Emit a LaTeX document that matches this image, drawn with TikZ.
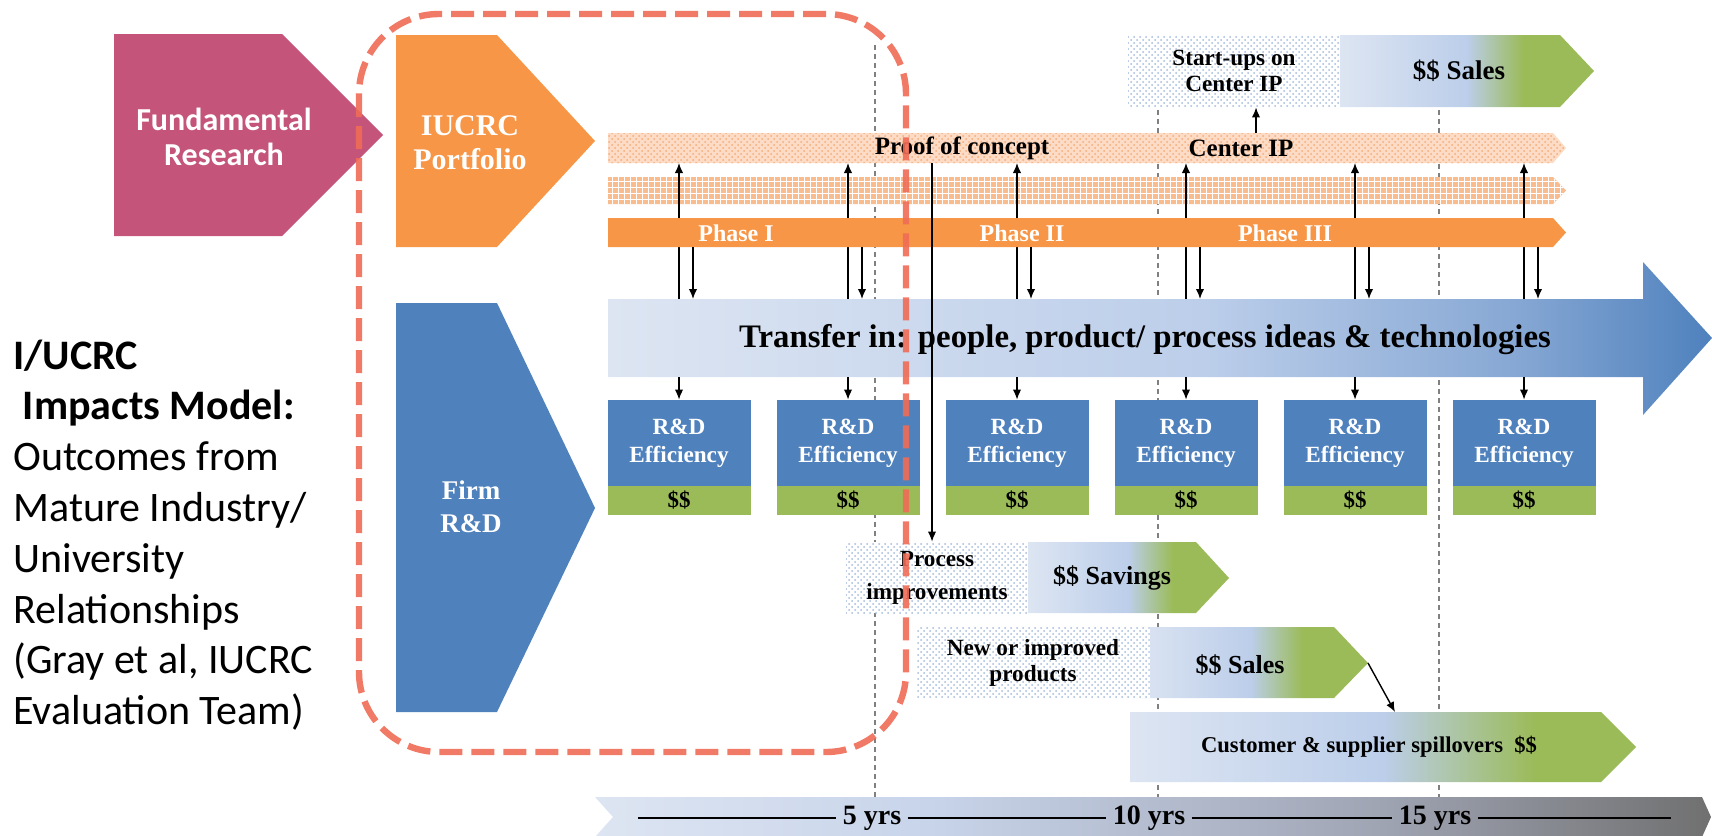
\documentclass[tikz,border=0pt]{standalone}
\usepackage{fontspec}
\setmainfont{Liberation Serif}
\newfontfamily\calibri{Carlito}
\usetikzlibrary{shapes,arrows.meta,patterns,positioning}

\definecolor{frpink}{RGB}{196,84,122}
\definecolor{iuorange}{RGB}{247,150,70}
\definecolor{rdblue}{RGB}{79,129,189}
\definecolor{rdgreen}{RGB}{155,187,89}
\definecolor{boxred}{RGB}{240,108,86}
\definecolor{gradlight}{RGB}{221,229,242}
\definecolor{gradmid}{RGB}{188,206,234}
\definecolor{xferdeep}{RGB}{135,168,212}
\definecolor{tlmid}{RGB}{200,212,234}
\definecolor{tlslate}{RGB}{160,165,180}
\definecolor{tldark}{RGB}{112,112,112}
\definecolor{peachlight}{RGB}{252,220,198}
\definecolor{peachdot}{RGB}{246,172,120}
\definecolor{peachmid}{RGB}{249,188,142}
\definecolor{dotblue}{RGB}{165,188,222}

\pgfdeclarehorizontalshading{salesgrad}{100bp}{color(0bp)=(gradlight); color(25bp)=(gradlight); color(50bp)=(gradmid); color(61bp)=(rdgreen); color(100bp)=(rdgreen)}
\pgfdeclarehorizontalshading{spillgrad}{100bp}{color(0bp)=(gradlight); color(25bp)=(gradlight); color(50bp)=(gradmid); color(65bp)=(rdgreen); color(100bp)=(rdgreen)}
\pgfdeclarehorizontalshading{xfergrad}{100bp}{color(0bp)=(gradlight); color(25bp)=(gradlight); color(52bp)=(gradmid); color(66bp)=(xferdeep); color(75bp)=(rdblue); color(100bp)=(rdblue)}
\pgfdeclarehorizontalshading{tlgrad}{100bp}{color(0bp)=(gradlight); color(25bp)=(gradlight); color(40bp)=(tlmid); color(60bp)=(tlslate); color(75bp)=(tldark); color(100bp)=(tldark)}

\newcommand{\tnr}[2]{\bfseries\fontsize{#1}{#2}\selectfont}

\begin{document}
\begin{tikzpicture}[x=0.5pt, y=-0.5pt, >={Latex[length=5pt,width=4.2pt]}, node distance=84.5pt,
    rdbox/.style={rectangle, fill=rdblue, minimum width=71.5pt, minimum height=43pt, inner sep=0pt, align=center, text=white, font=\tnr{11.6}{14}},
    cashbox/.style={rectangle, fill=rdgreen, minimum width=71.5pt, minimum height=14.5pt, inner sep=0pt, font=\tnr{11.5}{12}},
    dotbox/.style={rectangle, inner sep=0pt, preaction={fill=white}, pattern=crosshatch dots, pattern color=dotblue, align=center, font=\tnr{11.6}{13}},
    yrlbl/.style={inner sep=3pt, font=\tnr{14}{14}},
    yrline/.style={line width=1.1pt},
    link/.style={->, line width=0.7pt},
    timemark/.style={gray, line width=0.8pt, dash pattern=on 2.5pt off 2pt}]
    \useasboundingbox (0,0) rectangle (1712,835);

    % year marks
    \draw[timemark] (875,45) -- (875,797);
    \draw[timemark] (1158,110) -- (1158,797);
    \draw[timemark] (1439,110) -- (1439,797);

    % left chevrons
    \fill[frpink] (114,34) -- (282,34) -- (383,135) -- (282,236) -- (114,236) -- cycle;
    \node[font=\calibri\bfseries\fontsize{16}{17.5}\selectfont, text=white, align=center] (fundres) at (224,137) {Fundamental\\Research};
    \fill[iuorange] (396,35) -- (497,35) -- (595,141) -- (497,247) -- (396,247) -- cycle;
    \node[font=\tnr{15}{17}, text=white, align=center] (portfolio) at (470,143) {IUCRC\\Portfolio};
    \fill[rdblue] (396,303) -- (497,303) -- (595,508) -- (497,712) -- (396,712) -- cycle;
    \node[font=\tnr{13.5}{16.5}, text=white, align=center] (firmrd) at (471,507) {Firm\\R\&D};

    % center bars
    \coordinate (iptop) at (0,133);
    \coordinate (ipbot) at (0,163);
    \coordinate (phbot) at (0,247);
    \coordinate (xfertop) at (0,299);
    \coordinate (xferbot) at (0,377);
    \path[preaction={fill=peachlight}, pattern=crosshatch dots, pattern color=peachdot] (608,133) -- (1553,133) -- (1566,148) -- (1553,163) -- (608,163) -- cycle;
    \path[preaction={fill=peachmid}, pattern=grid, pattern color=white] (608,177) -- (1553,177) -- (1566,190.5) -- (1553,204) -- (608,204) -- cycle;

    % R&D boxes
    \node[rdbox] (rd1) at (679,443) {R\&D\\Efficiency};
    \node[rdbox, right of=rd1] (rd2) {R\&D\\Efficiency};
    \node[rdbox, right of=rd2] (rd3) {R\&D\\Efficiency};
    \node[rdbox, right of=rd3] (rd4) {R\&D\\Efficiency};
    \node[rdbox, right of=rd4] (rd5) {R\&D\\Efficiency};
    \node[rdbox, right of=rd5] (rd6) {R\&D\\Efficiency};
    \node[cashbox, below of=rd1, node distance=28.75pt] (cash1) {\$\$};
    \node[cashbox, below of=rd2, node distance=28.75pt] (cash2) {\$\$};
    \node[cashbox, below of=rd3, node distance=28.75pt] (cash3) {\$\$};
    \node[cashbox, below of=rd4, node distance=28.75pt] (cash4) {\$\$};
    \node[cashbox, below of=rd5, node distance=28.75pt] (cash5) {\$\$};
    \node[cashbox, below of=rd6, node distance=28.75pt] (cash6) {\$\$};

    % start-ups
    \node[dotbox, minimum width=106pt, minimum height=36pt] (startups) at (1234,71) {Start-ups on\\Center IP};
    \shade[shading=salesgrad] (1340,35) -- (1560,35) -- (1594,71) -- (1560,107) -- (1340,107) -- cycle;
    \node[font=\tnr{13.5}{14}] (sales1) at (1459,71) {\$\$ Sales};

    % up arrows
    \draw[link] (rd1.north |- xfertop) -- (rd1.north |- ipbot);
    \draw[link] (rd2.north |- xfertop) -- (rd2.north |- ipbot);
    \draw[link] (rd3.north |- xfertop) -- (rd3.north |- ipbot);
    \draw[link] (rd4.north |- xfertop) -- (rd4.north |- ipbot);
    \draw[link] (rd5.north |- xfertop) -- (rd5.north |- ipbot);
    \draw[link] (rd6.north |- xfertop) -- (rd6.north |- ipbot);
    \draw[link] ([xshift=11pt]startups.south |- iptop) -- ([xshift=11pt]startups.south);

    % phases
    \fill[iuorange] (608,218) -- (1553,218) -- (1566,232.5) -- (1553,247) -- (608,247) -- cycle;
    \node[font=\tnr{12}{12}, text=white] (phase1) at (736,233) {Phase I};
    \node[font=\tnr{12}{12}, text=white] (phase2) at (1022,233) {Phase II};
    \node[font=\tnr{12}{12}, text=white] (phase3) at (1285,233) {Phase III};
    \node[font=\tnr{12.5}{13}] (proof) at (962,148) {Proof of concept};
    \node[font=\tnr{12.5}{13}] (centerip) at (1241,148) {Center IP};

    % transfer
    \shade[shading=xfergrad] (608,299) -- (1643,299) -- (1643,262) -- (1712,338) -- (1643,415) -- (1643,377) -- (608,377) -- cycle;
    \node[font=\tnr{16.4}{17}] (transfer) at (1145,340) {Transfer in: people, product/ process ideas \& technologies};

    % down arrows
    \draw[link] ([xshift=7pt]rd1.north |- phbot) -- ([xshift=7pt]rd1.north |- xfertop);
    \draw[link] ([xshift=7pt]rd2.north |- phbot) -- ([xshift=7pt]rd2.north |- xfertop);
    \draw[link] ([xshift=7pt]rd3.north |- phbot) -- ([xshift=7pt]rd3.north |- xfertop);
    \draw[link] ([xshift=7pt]rd4.north |- phbot) -- ([xshift=7pt]rd4.north |- xfertop);
    \draw[link] ([xshift=7pt]rd5.north |- phbot) -- ([xshift=7pt]rd5.north |- xfertop);
    \draw[link] ([xshift=7pt]rd6.north |- phbot) -- ([xshift=7pt]rd6.north |- xfertop);
    \draw[link] (rd1.north |- xferbot) -- (rd1.north);
    \draw[link] (rd2.north |- xferbot) -- (rd2.north);
    \draw[link] (rd3.north |- xferbot) -- (rd3.north);
    \draw[link] (rd4.north |- xferbot) -- (rd4.north);
    \draw[link] (rd5.north |- xferbot) -- (rd5.north);
    \draw[link] (rd6.north |- xferbot) -- (rd6.north);

    % savings and sales
    \node[dotbox, minimum width=91pt, minimum height=35.5pt, font=\tnr{11.6}{16.5}] (procimp) at (937,577.5) {Process\\improvements};
    \shade[shading=salesgrad] (1028,542) -- (1196,542) -- (1229,578) -- (1196,613) -- (1028,613) -- cycle;
    \node[font=\tnr{13}{14}] (savings) at (1112,578) {\$\$ Savings};
    \draw[link] ([xshift=-2.5pt]procimp.north |- ipbot) -- ([xshift=-2.5pt]procimp.north);

    \shade[shading=salesgrad] (1133,627) -- (1334,627) -- (1368,663) -- (1334,698) -- (1133,698) -- cycle;
    \node[dotbox, minimum width=116.5pt, minimum height=35.5pt] (newprod) at (1033,662.5) {New or improved\\products};
    \node[font=\tnr{13}{14}] (sales2) at (1240,665) {\$\$ Sales};

    \shade[shading=spillgrad] (1130,712) -- (1601,712) -- (1636,747) -- (1601,782) -- (1130,782) -- cycle;
    \node[font=\tnr{11.3}{12}] (spill) at (1369,747) {Customer \& supplier spillovers \ \$\$};
    \coordinate (newtip) at (1368,663);
    \coordinate (spillin) at (1395,712);
    \draw[link] (newtip) -- (spillin);

    % timeline
    \shade[shading=tlgrad] (595,797) -- (1702,797) -- (1711,817) -- (1702,837) -- (595,837) -- (613,817) -- cycle;
    \node[yrlbl] (yr5) at (872,818) {5 yrs};
    \node[yrlbl] (yr10) at (1149,818) {10 yrs};
    \node[yrlbl] (yr15) at (1435,818) {15 yrs};
    \coordinate (tlstart) at (638,818);
    \coordinate (tlend) at (1671,818);
    \draw[yrline] (tlstart) -- (yr5.west);
    \draw[yrline] (yr5.east) -- (yr10.west);
    \draw[yrline] (yr10.east) -- (yr15.west);
    \draw[yrline] (yr15.east) -- (tlend);

    % model caption
    \node[anchor=west, align=left, inner sep=0pt, font=\calibri\fontsize{21}{25.4}\selectfont] (model) at (13,535) {\textbf{I/UCRC}\\\textbf{~Impacts Model:}\\Outcomes from\\Mature Industry/\\University\\Relationships\\(Gray et al, IUCRC\\Evaluation Team)};

    % mature relationship frame
    \draw[boxred, draw opacity=0.9, line width=3.2pt, dash pattern=on 11.5pt off 4.5pt, rounded corners=40pt] (359,14) rectangle (906,752);
\end{tikzpicture}
\end{document}
